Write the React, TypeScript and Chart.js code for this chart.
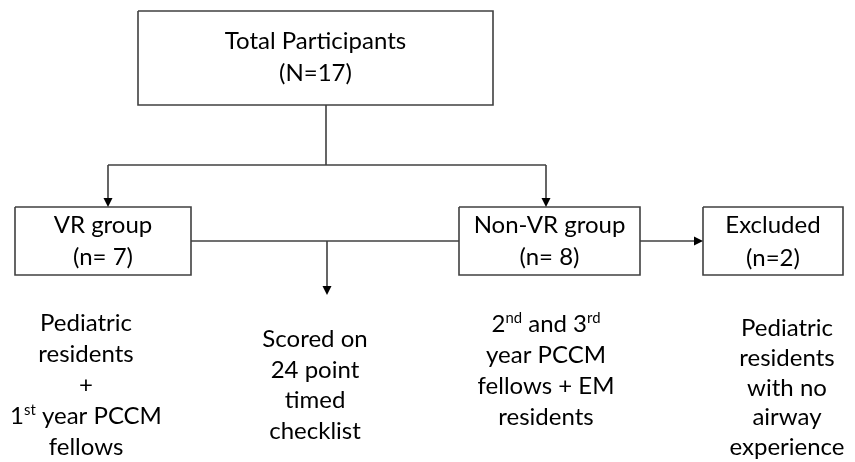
import React, { useEffect, useRef } from "react";
import { Chart, registerables } from "chart.js";
Chart.register(...registerables);

// ---- content ----
const boxTitles = ["Total Participants", "VR group", "Non-VR group", "Excluded"];
const boxCounts = ["(N=17)", "(n= 7)", "(n= 8)", "(n=2)"];
const noteVR = ["Pediatric", "residents", "+", "1{st} year PCCM", "fellows"];
const noteScored = ["Scored on", "24 point", "timed", "checklist"];
const noteNonVR = ["2{nd} and 3{rd}", "year PCCM", "fellows + EM", "residents"];
const noteExcluded = ["Pediatric", "residents", "with no", "airway", "experience"];
const notes = [noteVR, noteScored, noteNonVR, noteExcluded];

// ---- layout (diagram units: x 0..855, y 0..462 downward) ----
const boxLeft = [138, 15, 459, 703];
const boxRight = [493, 191, 640, 843];
const boxTop = [11, 207, 207, 207];
const boxBottom = [105, 275, 275, 275];
const titleBase = [49, 233, 233, 233];
const countBase = [81, 265, 265, 266];

const noteCenterX = [86, 315, 546, 787];
const noteFirstBase = [331, 347, 332, 336];
const noteLineGap = [31, 30.7, 31, 29.8];

// connector segments: [x1, y1, x2, y2, arrowAtEnd]
const connX1 = [326, 108, 108, 546, 191, 327, 640];
const connY1 = [105, 165, 165, 165, 241, 241, 241];
const connX2 = [326, 546, 108, 546, 459, 327, 703];
const connY2 = [165, 165, 207, 207, 241, 295, 241];
const connArrow = [false, false, true, true, false, true, true];

const LINE = "#404040";
const FONT = "Lato, 'Open Sans', sans-serif";
const FONT_SIZE = 24;

function parseRich(s: string) {
  const out: { t: string; sup: boolean }[] = [];
  const re = /\{([^}]*)\}/g;
  let last = 0;
  let m: RegExpExecArray | null;
  while ((m = re.exec(s))) {
    if (m.index > last) out.push({ t: s.slice(last, m.index), sup: false });
    out.push({ t: m[1], sup: true });
    last = m.index + m[0].length;
  }
  if (last < s.length) out.push({ t: s.slice(last), sup: false });
  return out;
}

function drawRich(ctx: CanvasRenderingContext2D, s: string, cx: number, baseY: number, size: number) {
  const segs = parseRich(s);
  const supSize = size * 0.62;
  const widths = segs.map((sg) => {
    ctx.font = `${sg.sup ? supSize : size}px ${FONT}`;
    return ctx.measureText(sg.t).width;
  });
  const total = widths.reduce((a, b) => a + b, 0);
  let x = cx - total / 2;
  ctx.textAlign = "left";
  ctx.textBaseline = "alphabetic";
  segs.forEach((sg, i) => {
    ctx.font = `${sg.sup ? supSize : size}px ${FONT}`;
    ctx.fillText(sg.t, x, sg.sup ? baseY - size * 0.36 : baseY);
    x += widths[i];
  });
}

const diagramPlugin = {
  id: "diagramText",
  afterDatasetsDraw(chart: any) {
    const ctx: CanvasRenderingContext2D = chart.ctx;
    const xs = chart.scales.x;
    const ys = chart.scales.y;
    const px = (v: number) => xs.getPixelForValue(v);
    const py = (v: number) => ys.getPixelForValue(v);
    ctx.save();
    // arrowheads
    ctx.fillStyle = "#000";
    connArrow.forEach((a, i) => {
      if (!a) return;
      const x1 = px(connX1[i]), y1 = py(connY1[i]);
      const x2 = px(connX2[i]), y2 = py(connY2[i]);
      const ang = Math.atan2(y2 - y1, x2 - x1);
      const L = 9, W = 4.5;
      ctx.beginPath();
      ctx.moveTo(x2, y2);
      ctx.lineTo(x2 - L * Math.cos(ang) + W * Math.sin(ang), y2 - L * Math.sin(ang) - W * Math.cos(ang));
      ctx.lineTo(x2 - L * Math.cos(ang) - W * Math.sin(ang), y2 - L * Math.sin(ang) + W * Math.cos(ang));
      ctx.closePath();
      ctx.fill();
    });
    // box text
    ctx.fillStyle = "#000";
    boxTitles.forEach((t, i) => {
      const cx = px((boxLeft[i] + boxRight[i]) / 2);
      drawRich(ctx, t, cx, py(titleBase[i]), FONT_SIZE);
      drawRich(ctx, boxCounts[i], cx, py(countBase[i]), FONT_SIZE);
    });
    // notes
    notes.forEach((lines, i) => {
      lines.forEach((ln, j) => {
        drawRich(ctx, ln, px(noteCenterX[i]), py(noteFirstBase[i] + j * noteLineGap[i]), FONT_SIZE);
      });
    });
    ctx.restore();
  },
};

export default function App() {
  const ref = useRef<HTMLCanvasElement | null>(null);
  useEffect(() => {
    document.body.style.margin = "0";
    const canvas = ref.current;
    if (!canvas) return;
    const boxSets = boxTitles.map((t, i) => ({
      label: t,
      data: [
        { x: boxLeft[i], y: boxTop[i] },
        { x: boxRight[i], y: boxTop[i] },
        { x: boxRight[i], y: boxBottom[i] },
        { x: boxLeft[i], y: boxBottom[i] },
        { x: boxLeft[i], y: boxTop[i] },
      ],
      showLine: true,
      borderColor: LINE,
      borderWidth: 1.6,
      borderJoinStyle: "miter" as const,
      pointRadius: 0,
      fill: false,
      tension: 0,
    }));
    const connSets = connX1.map((_, i) => {
      const dx = connX2[i] - connX1[i];
      const dy = connY2[i] - connY1[i];
      const len = Math.hypot(dx, dy) || 1;
      const back = connArrow[i] ? 8 : 0;
      return {
        label: "c" + i,
        data: [
          { x: connX1[i], y: connY1[i] },
          { x: connX2[i] - (dx / len) * back, y: connY2[i] - (dy / len) * back },
        ],
        showLine: true,
        borderColor: LINE,
        borderWidth: 1.6,
        pointRadius: 0,
        fill: false,
        tension: 0,
      };
    });
    const chart = new Chart(canvas, {
      type: "scatter",
      data: { datasets: [...boxSets, ...connSets] as any },
      options: {
        animation: false,
        responsive: false,
        devicePixelRatio: 1,
        layout: { padding: 0 },
        events: [],
        scales: {
          x: { type: "linear", min: 0, max: 855, display: false },
          y: { type: "linear", min: 0, max: 462, reverse: true, display: false },
        },
        plugins: { legend: { display: false }, tooltip: { enabled: false } },
      },
      plugins: [diagramPlugin],
    });
    return () => chart.destroy();
  }, []);
  return (
    <div style={{ width: 855, height: 462, background: "#fff" }}>
      <canvas ref={ref} width={855} height={462} style={{ display: "block" }} />
    </div>
  );
}
